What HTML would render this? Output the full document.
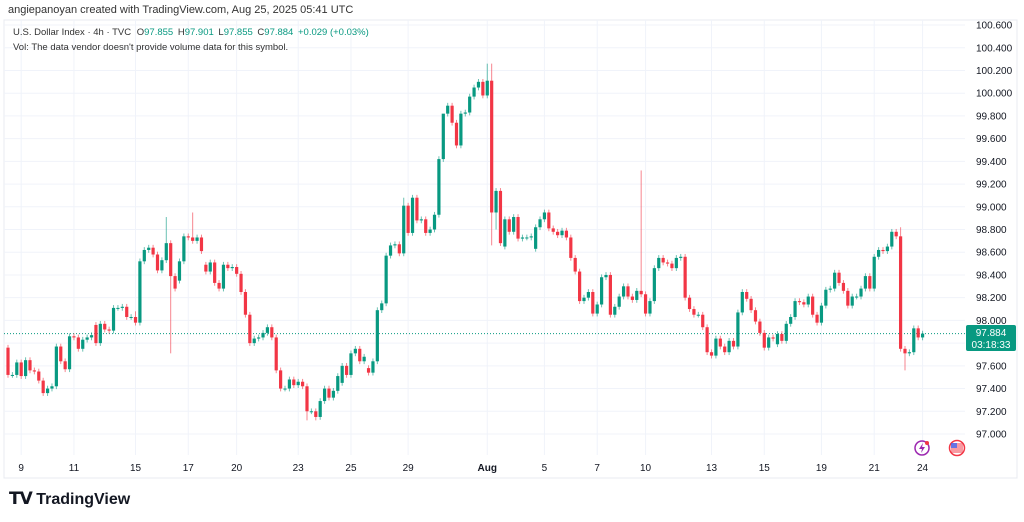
<!DOCTYPE html>
<html><head><meta charset="utf-8">
<style>
body{margin:0;background:#fff;width:1024px;height:522px;overflow:hidden;font-family:"Liberation Sans",sans-serif;}
#hdr{position:absolute;left:8px;top:4px;font-size:11px;color:#333;}
#logo{position:absolute;left:9px;top:489px;font-size:16px;font-weight:bold;color:#131722;}
</style></head><body>
<div id="hdr">angiepanoyan created with TradingView.com, Aug 25, 2025 05:41 UTC</div>
<svg id="chart" width="1024" height="522" style="position:absolute;left:0;top:0">
<rect x="4" y="20" width="1013" height="458" fill="none" stroke="#e8ebf0"/>
<g id="grid"></g><g id="candles"></g><g id="axes"></g>
<text x="13" y="35" font-size="9.5" fill="#333">U.S. Dollar Index · 4h · TVC <tspan dx="3">O</tspan><tspan fill="#089981">97.855</tspan> <tspan dx="2">H</tspan><tspan fill="#089981">97.901</tspan> <tspan dx="2">L</tspan><tspan fill="#089981">97.855</tspan> <tspan dx="2">C</tspan><tspan fill="#089981">97.884</tspan> <tspan dx="2" fill="#089981">+0.029 (+0.03%)</tspan></text>
<text x="13" y="50" font-size="9.5" fill="#333">Vol: The data vendor doesn't provide volume data for this symbol.</text>
<g><circle cx="922" cy="448" r="7" fill="none" stroke="#9c27b0" stroke-width="1.5"/><path d="M923 443 L919 449 L922 449 L921 453 L925 447 L922 447 Z" fill="#9c27b0"/><circle cx="927" cy="443" r="2" fill="#f23645"/></g>
<g><circle cx="957" cy="448" r="7.5" fill="#fff" stroke="#f23645" stroke-width="1.5"/><rect x="951" y="443" width="12" height="10" fill="#f23645" opacity=".5"/><rect x="951" y="443" width="6" height="5" fill="#2962ff" opacity=".7"/></g>
<g><rect x="966" y="325" width="50" height="26" rx="2" fill="#089981"/><text x="991" y="336" font-size="10" fill="#fff" text-anchor="middle">97.884</text><text x="991" y="348" font-size="10" fill="#fff" text-anchor="middle">03:18:33</text></g>
</svg>
<div id="logo"><span style="font-size:17px;letter-spacing:-1px">𝗧𝗩</span> TradingView</div>
<script>
const closes=[97.52,97.52,97.63,97.51,97.65,97.56,97.55,97.47,97.36,97.40,97.42,97.77,97.64,97.57,97.86,97.85,97.75,97.83,97.85,97.87,97.80,97.97,97.92,97.91,98.11,98.11,98.12,98.03,98.03,97.98,98.52,98.62,98.64,98.58,98.44,98.53,98.68,98.39,98.28,98.52,98.74,98.73,98.70,98.73,98.61,98.43,98.51,98.33,98.28,98.49,98.46,98.47,98.41,98.25,98.05,97.80,97.84,97.85,97.89,97.94,97.85,97.56,97.40,97.40,97.48,97.43,97.46,97.42,97.20,97.20,97.15,97.29,97.40,97.32,97.38,97.51,97.60,97.52,97.71,97.75,97.64,97.68,97.54,97.64,98.09,98.15,98.57,98.66,98.67,98.59,99.01,98.77,99.08,98.88,98.89,98.77,98.80,98.93,99.42,99.82,99.89,99.74,99.54,99.82,99.83,99.97,100.05,100.10,99.98,100.11,98.95,99.14,98.68,98.89,98.78,98.91,98.72,98.73,98.73,98.74,98.82,98.89,98.95,98.81,98.78,98.75,98.79,98.73,98.55,98.43,98.17,98.20,98.25,98.06,98.14,98.38,98.40,98.05,98.12,98.21,98.30,98.21,98.18,98.26,98.23,98.06,98.17,98.46,98.55,98.51,98.50,98.46,98.55,98.56,98.20,98.10,98.05,98.05,97.94,97.72,97.69,97.84,97.77,97.72,97.82,97.77,98.07,98.25,98.19,98.09,97.99,97.89,97.76,97.85,97.84,97.88,97.82,97.97,98.03,98.17,98.16,98.14,98.21,98.05,97.98,98.13,98.27,98.28,98.42,98.33,98.26,98.13,98.21,98.21,98.28,98.39,98.28,98.56,98.62,98.61,98.65,98.78,98.74,97.75,97.71,97.72,97.93,97.85,97.884];
const firstOpen=97.76;
const gapIdx=[20,39,45,76,82,113,120,175];
const gapOpen=[97.96,98.35,98.49,97.45,97.58,98.65,98.63,97.79];
const hiIdx=[36,42,99,109,110,144,29,90,203];
const hiVal=[98.91,98.95,99.60,100.26,100.26,99.32,98.08,99.08,98.82];
const loIdx=[37,110,204,70,111,68];
const loVal=[97.71,98.66,97.56,97.12,98.80,97.12];
const yTicks=[100.6,100.4,100.2,100.0,99.8,99.6,99.4,99.2,99.0,98.8,98.6,98.4,98.2,98.0,97.8,97.6,97.4,97.2,97.0];
const xLabels=["9","11","15","17","20","23","25","29","Aug","5","7","10","13","15","19","21","24"];
const xLabelIdx=[3,15,29,41,52,66,78,91,109,122,134,145,160,172,185,197,208];
const lastPrice=97.884;
const WICK=0.025;
const NS="http://www.w3.org/2000/svg";
function yS(p){return 434-(p-97)*113.6;}
function xS(i){return 8+i*4.397;}
function el(t,a,parent){const e=document.createElementNS(NS,t);for(const k in a)e.setAttribute(k,a[k]);parent.appendChild(e);return e;}
const grid=document.getElementById('grid'),cg=document.getElementById('candles'),ax=document.getElementById('axes');
yTicks.forEach(v=>{const y=yS(v);
 const l=el('line',{x1:4,x2:965,y1:y,y2:y,stroke:'#f0f3fa'},grid);
 
 
 const t=el('text',{x:976,y:y+3.5,'font-size':10,fill:'#131722'},ax);t.textContent=v.toFixed(3);
 
 
});
xLabels.forEach((s,k)=>{const x=xS(xLabelIdx[k]);
 const l=el('line',{x1:x,x2:x,y1:20,y2:455,stroke:'#f0f3fa'},grid);
 
 
 const t=el('text',{x:x,y:471,'font-size':10,fill:'#131722','text-anchor':'middle','font-weight':s==='Aug'?'bold':'normal'},ax);t.textContent=s;
 
 
});
const pl=el('line',{x1:4,x2:965,y1:yS(lastPrice),y2:yS(lastPrice),stroke:'#089981','stroke-dasharray':'1,2'},grid);


closes.forEach((c,i)=>{
 let o=i===0?firstOpen:closes[i-1];
 const g=gapIdx.indexOf(i);if(g>=0)o=gapOpen[g];
 let h=Math.max(o,c)+WICK,lo=Math.min(o,c)-WICK;
 const hi=hiIdx.indexOf(i);if(hi>=0)h=hiVal[hi];
 const li=loIdx.indexOf(i);if(li>=0)lo=loVal[li];
 const col=c>=o?'#089981':'#f23645';const x=xS(i);
 const w=el('line',{x1:x,x2:x,y1:yS(h),y2:yS(lo),stroke:col,'stroke-width':1,opacity:0.6},cg);
 
 
 const top=yS(Math.max(o,c)),bh=Math.max(1,yS(Math.min(o,c))-top);
 const b=el('rect',{x:x-1.6,y:top,width:3.2,height:bh,fill:col},cg);
 
 
});
</script>
</body></html>
